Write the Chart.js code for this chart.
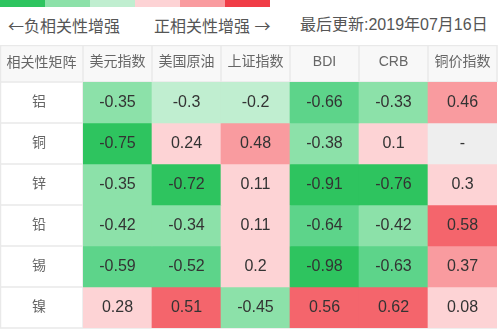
<!DOCTYPE html>
<html>
<head>
<meta charset="utf-8">
<script src="https://cdn.jsdelivr.net/npm/chart.js@4"></script>
<style>
  body { margin: 0; background: #fff; font-family: Arial, "Liberation Sans", "Noto Sans CJK SC", sans-serif; }
  #top { position: relative; width: 499px; height: 45px; }
  #bar span { position: absolute; top: 0; height: 7px; width: 45px; }
  .t { position: absolute; top: 16px; font-size: 16px; line-height: 18px; color: #555; white-space: nowrap; }
  .ar { font-family: "Noto Sans CJK SC", sans-serif; }
  #c { display: block; }
</style>
</head>
<body>
<div id="top">
  <div id="bar"></div>
  <span class="t" style="left:8px"><span class="ar">←</span>负相关性增强</span>
  <span class="t" style="left:154px">正相关性增强 <span class="ar">→</span></span>
  <span class="t" style="left:300px">最后更新:2019年07月16日</span>
</div>
<canvas id="c" width="499" height="285"></canvas>
<script>
const columns = ["美元指数", "美国原油", "上证指数", "BDI", "CRB", "铜价指数"];
const rows = ["铝", "铜", "锌", "铅", "锡", "镍"];
const al = [-0.35, -0.3, -0.2, -0.66, -0.33, 0.46];
const cu = [-0.75, 0.24, 0.48, -0.38, 0.1, null];
const zn = [-0.35, -0.72, 0.11, -0.91, -0.76, 0.3];
const pb = [-0.42, -0.34, 0.11, -0.64, -0.42, 0.58];
const sn = [-0.59, -0.52, 0.2, -0.98, -0.63, 0.37];
const ni = [0.28, 0.51, -0.45, 0.56, 0.62, 0.08];
const matrix = [al, cu, zn, pb, sn, ni];

const legendColors = ["#2ec45f", "#8ce1a9", "#c0eed0", "#fdd3d5", "#f99b9f", "#f03c46"];

// legend strip on top
legendColors.forEach((c, i) => {
    const s = document.createElement("span");
    s.style.left = (i * 45) + "px";
    s.style.background = c;
    document.getElementById("bar").appendChild(s);
});

function cellColor(v) {
    if (v === null) return "#eeeeee";
    if (v <= -0.7) return "#2ec45f";
    if (v <= -0.5) return "#5dd48a";
    if (v < -0.3) return "#8ce1a9";
    if (v < 0) return "#c0eed0";
    if (v <= 0.3) return "#fdd3d5";
    if (v <= 0.5) return "#f99b9f";
    return "#f4656c";
}

const datasets = rows.map((r, i) => ({
    label: r,
    data: columns.map(() => [i, i + 1]),
    backgroundColor: matrix[i].map(cellColor),
    borderWidth: 0,
    barPercentage: 1,
    categoryPercentage: 1,
    grouped: false
}));

const FONT = 'Arial, "Liberation Sans", "Noto Sans CJK SC"';

const tablePlugin = {
    id: "table",
    beforeDraw(chart) {
        const ctx = chart.ctx;
        const x = chart.scales.x, y = chart.scales.y;
        const area = chart.chartArea;
        ctx.save();
        ctx.fillStyle = "#f8f8f8";
        ctx.fillRect(0, x.top, area.right, x.bottom - x.top);
        ctx.strokeStyle = "#e9e9e9";
        ctx.lineWidth = 1.5;
        ctx.beginPath();
        // header column separators
        for (let j = 0; j <= columns.length; j++) {
            const px = j === 0 ? area.left : (j === columns.length ? area.right : (x.getPixelForValue(j - 1) + x.getPixelForValue(j)) / 2);
            ctx.moveTo(px, x.top);
            ctx.lineTo(px, j === 0 ? area.bottom : x.bottom);
        }
        ctx.moveTo(0.5, x.top);
        ctx.lineTo(0.5, area.bottom);
        ctx.moveTo(0, x.top + 0.5);
        ctx.lineTo(area.right, x.top + 0.5);
        // row separators
        for (let i = 0; i <= rows.length; i++) {
            const py = y.getPixelForValue(i);
            ctx.moveTo(0, py);
            ctx.lineTo(i === 0 || i === rows.length ? area.right : area.left, py);
        }
        ctx.stroke();
        ctx.fillStyle = "#666";
        ctx.font = "14px " + FONT;
        ctx.textAlign = "center";
        ctx.textBaseline = "middle";
        ctx.fillText("相关性矩阵", area.left / 2, (x.top + x.bottom) / 2);
        ctx.restore();
    },
    afterDatasetsDraw(chart) {
        const ctx = chart.ctx;
        ctx.save();
        ctx.fillStyle = "#333";
        ctx.font = "16px " + FONT;
        ctx.textAlign = "center";
        ctx.textBaseline = "middle";
        chart.data.datasets.forEach((ds, i) => {
            chart.getDatasetMeta(i).data.forEach((bar, j) => {
                const v = matrix[i][j];
                ctx.fillText(v === null ? "-" : String(v), bar.x, (bar.y + bar.base) / 2);
            });
        });
        ctx.restore();
    }
};

new Chart(document.getElementById("c"), {
    type: "bar",
    data: { labels: columns, datasets: datasets },
    options: {
        responsive: false,
        animation: false,
        layout: { padding: { top: 0, right: 2, bottom: 2, left: 0 } },
        plugins: { legend: { display: false }, tooltip: { enabled: false } },
        scales: {
            x: {
                position: "top",
                grid: { display: false },
                border: { display: false },
                ticks: { color: "#666", font: { size: 14, family: FONT }, padding: 3, maxRotation: 0 },
                afterFit: s => { s.height = 37; s.paddingLeft = 0; s.paddingRight = 0; }
            },
            y: {
                type: "linear",
                min: 0,
                max: rows.length,
                reverse: true,
                grid: { display: false },
                border: { display: false },
                afterBuildTicks: s => { s.ticks = rows.map((r, i) => ({ value: i + 0.5 })); },
                ticks: { color: "#666", font: { size: 14, family: FONT }, padding: 29, callback: (v, idx) => rows[idx] },
                afterFit: s => { s.width = 83; s.paddingTop = 0; s.paddingBottom = 0; }
            }
        }
    },
    plugins: [tablePlugin]
});
</script>
</body>
</html>
